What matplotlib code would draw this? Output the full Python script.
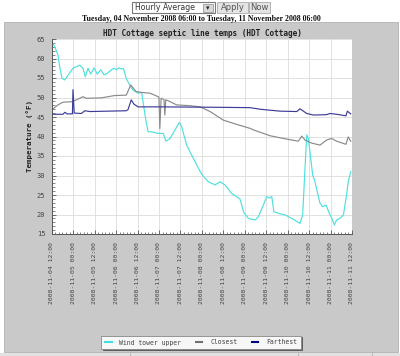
import matplotlib
matplotlib.use("Agg")
import matplotlib.pyplot as plt
from matplotlib.patches import Rectangle
import numpy as np

# ---------------- data (hours after 2008-11-04 12:00) ----------------
wind_h = [0, 1.7, 3.5, 4.6, 5.8, 7.3, 11.9, 15.7, 17.5, 18.8, 20.3, 21.8, 23.7, 25.5, 27.4,
          29.3, 31.1, 33.3, 34.9, 36.1, 37.5, 39.3, 40.1, 41.7, 43.6, 45.5, 48.3, 50.3,
          52.8, 54.0, 55.9, 59.6, 62.4, 63.9, 66.2, 69.0, 71.4, 72.7, 75.5, 79.2, 83.9,
          87.6, 91.4, 94.2, 96.9, 100.7, 105.3, 107.5, 110.0, 113.8, 115.6, 118.4, 120.3,
          121.7, 123.1, 124.3, 126.8, 130.5, 134.3, 137.1, 138.9, 140.4, 141.7, 142.7,
          143.6, 144.9, 146.0, 147.3, 148.6, 150.1, 151.6, 153.5, 155.3, 156.7, 158.1,
          159.4, 161.3, 163.2, 164.7, 165.9, 167.3]
wind_v = [64.3, 63.0, 60.9, 57.5, 54.9, 54.5, 57.5, 58.3, 57.5, 55.3, 57.5, 56.0, 57.6, 56.0, 57.1,
          55.8, 56.2, 57.1, 57.5, 57.1, 57.6, 57.3, 57.5, 54.9, 53.2, 51.9, 51.1, 51.3,
          43.8, 41.2, 41.2, 40.8, 40.8, 38.8, 39.5, 41.7, 43.6, 42.5, 37.8, 34.4, 30.3,
          28.4, 27.6, 28.4, 27.6, 25.4, 24.0, 20.5, 19.0, 18.6, 19.4, 22.4, 24.6,
          24.2, 24.6, 20.7, 20.3, 19.9, 19.0, 18.2, 17.7, 19.9, 31.8, 40.4,
          39.5, 34.4, 30.1, 28.4, 25.8, 22.9, 22.0, 22.4, 20.3, 19.0, 17.3,
          18.6, 19.0, 19.9, 24.2, 28.4, 31.0]

closest_h = [0, 3.5, 6.3, 11.0, 11.9, 17.5, 19.4, 27.7, 35.2, 41.7, 44.2, 47.3, 50.3, 55.0,
             59.6, 60.0, 60.5, 61.2, 62.8, 63.3, 63.8, 65.0, 69.9, 77.4, 83.0, 88.6, 96.0,
             103.5, 110.9, 112.8, 122.1, 129.6, 138.0, 139.9, 141.7, 145.5, 150.1, 153.8,
             156.6, 159.4, 164.6, 165.9, 167.3]
closest_v = [46.8, 48.1, 48.8, 48.9, 49.0, 50.2, 49.8, 49.9, 50.5, 50.6, 53.2, 51.5, 51.3, 51.1,
             50.2, 50.0, 42.0, 49.8, 49.5, 45.5, 49.4, 49.2, 48.1, 47.9, 47.6, 46.4, 44.2,
             43.1, 42.1, 41.7, 40.2, 39.5, 38.8, 40.1, 39.1, 38.3, 37.8, 39.1,
             39.5, 38.8, 38.0, 39.9, 38.8]

farthest_h = [0, 6.3, 7.4, 8.6, 11.6, 11.9, 12.6, 16.6, 18.5, 21.4, 41.7, 42.7, 44.5, 46.0,
              48.3, 60.0, 90.0, 110.9, 116.5, 127.7, 137.1, 138.9, 142.7, 146.4, 153.8,
              155.7, 159.4, 164.6, 165.4, 167.3]
farthest_v = [45.7, 45.7, 46.2, 45.8, 45.8, 52.0, 46.0, 45.9, 46.6, 46.4, 46.6, 46.9, 49.4, 48.3,
              47.6, 47.6, 47.5, 47.4, 47.0, 46.5, 46.4, 47.1, 45.9, 45.5, 45.6,
              45.9, 45.7, 45.3, 46.5, 45.8]

series_names = ["Wind tower upper", "Closest", "Farthest"]
series_colors = ["#4ee0e0", "#8a8a8a", "#3c3c98"]
legend_colors = ["#40e0e0", "#707070", "#000080"]

tick_labels = ["2008-11-04 12:00", "2008-11-05 00:00", "2008-11-05 12:00", "2008-11-06 00:00",
               "2008-11-06 12:00", "2008-11-07 00:00", "2008-11-07 12:00", "2008-11-08 00:00",
               "2008-11-08 12:00", "2008-11-09 00:00", "2008-11-09 12:00", "2008-11-10 00:00",
               "2008-11-10 12:00", "2008-11-11 00:00", "2008-11-11 12:00"]
y_ticks = [15, 20, 25, 30, 35, 40, 45, 50, 55, 60, 65]

title = "HDT Cottage septic line temps (HDT Cottage)"
range_text = "Tuesday, 04 November 2008 06:00 to Tuesday, 11 November 2008 06:00"

# ---------------- figure ----------------
W, H = 400, 356
fig = plt.figure(figsize=(W / 100, H / 100), dpi=100)
fig.patch.set_facecolor("white")

def fx(px):
    return px / W

def fy(py):
    return 1 - py / H

def rect(x0, y0, x1, y1, z=-5, **kw):
    r = Rectangle((fx(x0), fy(y1)), fx(x1) - fx(x0), fy(y0) - fy(y1),
                  transform=fig.transFigure, zorder=z, **kw)
    fig.patches.append(r)
    return r

mono = "DejaVu Sans Mono"

# top controls
rect(132, 2, 215, 13, facecolor="white", edgecolor="#7a7a7a", lw=0.8)
fig.text(fx(135), fy(7.8), "Hourly Average", fontsize=5.6, family="DejaVu Sans",
         color="#333333", va="center", ha="left")
rect(203, 4, 213, 12, facecolor="#d8d8d8", edgecolor="#999999", lw=0.6)
fig.text(fx(208), fy(8), "\u25be", fontsize=5, color="#222222", ha="center", va="center")
rect(217, 2, 248, 13, facecolor="#e4e4e4", edgecolor="#aaaaaa", lw=0.6)
fig.text(fx(232.5), fy(7.8), "Apply", fontsize=6.0, family="DejaVu Sans",
         color="#555555", ha="center", va="center")
rect(249, 2, 270, 13, facecolor="#e4e4e4", edgecolor="#aaaaaa", lw=0.6)
fig.text(fx(259.5), fy(7.8), "Now", fontsize=6.0, family="DejaVu Sans",
         color="#555555", ha="center", va="center")

fig.text(fx(201), fy(19), range_text, fontsize=5.7, family="Liberation Serif",
         weight="bold", color="#111111", ha="center", va="center")

# gray panel
rect(4, 22, 398, 352, facecolor="#c9c9c9", edgecolor="#b0b0b0", lw=0.6)
# bottom strip
rect(0, 352.5, 400, 356, facecolor="#e2e2e2", edgecolor="none")
for xs in [130, 298, 372]:
    rect(xs, 352.5, xs + 1, 356, facecolor="#bbbbbb", edgecolor="none")

fig.text(fx(202), fy(33), title, fontsize=5.6, family=mono, weight="bold",
         color="#222222", ha="center", va="center")

# axes
ax = fig.add_axes([fx(51.7), fy(234), fx(352) - fx(51.7), fy(39) - fy(234)])
ax.set_zorder(2)
ax.set_facecolor("white")

for h, v, c, n in zip([wind_h, closest_h, farthest_h], [wind_v, closest_v, farthest_v],
                      series_colors, series_names):
    ax.plot(h, v, color=c, lw=0.85, label=n)

ax.set_xlim(0, 168)
ax.set_ylim(15, 65)
ax.set_xticks(np.arange(0, 169, 12))
ax.set_xticklabels(tick_labels, rotation=90, family=mono, fontsize=4.6, color="#444444")
ax.set_xticks(np.arange(0, 169, 2), minor=True)
ax.set_yticks(y_ticks)
ax.set_yticklabels([str(t) for t in y_ticks], family=mono, fontsize=5.0, color="#444444")
ax.set_yticks(np.arange(15, 66, 1), minor=True)
ax.tick_params(axis="both", which="major", direction="in", length=3, width=0.6, color="#555555")
ax.tick_params(axis="both", which="minor", direction="in", length=1.8, width=0.5, color="#555555")
ax.tick_params(axis="x", which="major", pad=5.5)
ax.tick_params(axis="y", which="major", pad=4.5)
ax.grid(True, which="major", color="#dcdcdc", lw=0.6)
ax.set_axisbelow(True)
for s in ["top", "right"]:
    ax.spines[s].set_visible(False)
for s in ["left", "bottom"]:
    ax.spines[s].set_color("#555555")
    ax.spines[s].set_linewidth(0.7)

ax.set_ylabel("Temperature (\u00b0F)", family=mono, fontsize=5.4, weight="bold",
              color="#222222", labelpad=3)

handles = [plt.Line2D([], [], color=c, lw=1.5) for c in legend_colors]
leg = fig.legend(handles, series_names, loc="center",
                 bbox_to_anchor=(fx(201), fy(342.5)), ncol=3,
                 prop={"family": mono, "size": 4.7}, handlelength=1.0,
                 handletextpad=1.2, columnspacing=2.2, frameon=True, fancybox=False,
                 shadow={"ox": 0.9, "oy": -0.9, "color": "#555555", "alpha": 1.0},
                 borderpad=0.55, labelcolor="#444444")
leg.get_frame().set_facecolor("#f7f7f7")
leg.get_frame().set_edgecolor("#888888")
leg.get_frame().set_linewidth(0.6)

fig.savefig("out.png", dpi=100, facecolor="white")
